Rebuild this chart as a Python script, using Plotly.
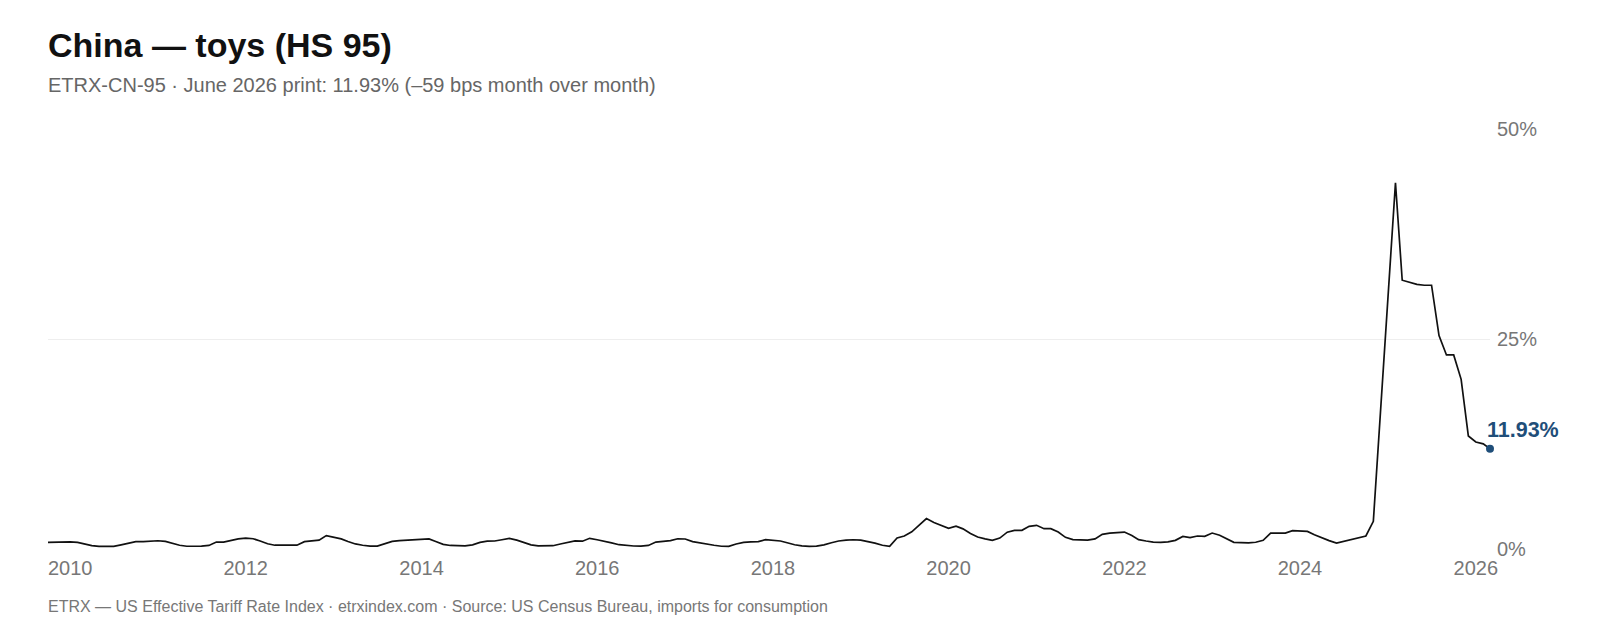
import pandas as pd
import plotly.graph_objects as go

# ETRX-CN-95, monthly effective tariff rate (%), Oct 2009 .. Mar 2026
start_month = "2009-10-01"
rate = [
    0.79, 0.82, 0.84, 0.84, 0.79, 0.60, 0.40, 0.31, 0.27, 0.31,
    0.50, 0.70, 0.87, 0.88, 0.93, 0.98, 0.90, 0.70, 0.45, 0.33,
    0.30, 0.35, 0.42, 0.83, 0.83, 1.05, 1.20, 1.30, 1.22, 0.95,
    0.63, 0.45, 0.43, 0.43, 0.45, 0.87, 0.95, 1.05, 1.59, 1.40,
    1.20, 0.90, 0.60, 0.45, 0.35, 0.35, 0.60, 0.90, 1.00, 1.05,
    1.10, 1.18, 1.20, 0.90, 0.55, 0.42, 0.36, 0.37, 0.50, 0.78,
    0.93, 0.95, 1.10, 1.27, 1.05, 0.80, 0.50, 0.38, 0.37, 0.39,
    0.60, 0.79, 0.97, 0.93, 1.27, 1.10, 0.93, 0.72, 0.51, 0.42,
    0.36, 0.35, 0.42, 0.83, 0.92, 1.00, 1.22, 1.19, 0.88, 0.72,
    0.58, 0.45, 0.33, 0.31, 0.60, 0.79, 0.85, 0.87, 1.11, 1.05,
    0.95, 0.75, 0.51, 0.38, 0.31, 0.35, 0.50, 0.75, 0.95, 1.05,
    1.10, 1.05, 0.91, 0.70, 0.45, 0.31, 1.31, 1.55, 2.05, 2.80,
    3.62, 3.15, 2.79, 2.47, 2.71, 2.40, 1.85, 1.42, 1.20, 1.03,
    1.30, 2.00, 2.22, 2.22, 2.70, 2.82, 2.42, 2.42, 2.02, 1.39,
    1.11, 1.08, 1.05, 1.20, 1.75, 1.90, 1.95, 2.02, 1.60, 1.11,
    0.95, 0.82, 0.78, 0.85, 1.03, 1.50, 1.35, 1.55, 1.51, 1.90,
    1.63, 1.20, 0.79, 0.75, 0.72, 0.80, 1.03, 1.90, 1.90, 1.90,
    2.18, 2.15, 2.10, 1.70, 1.31, 1.00, 0.71, 0.90, 1.11, 1.30,
    1.55, 3.30, 16.70, 30.20, 43.60, 32.00, 31.70, 31.50, 31.40, 31.40,
    25.40, 23.10, 23.10, 20.20, 13.45, 12.74, 12.52, 11.93,
]
year_ticks = [2010, 2012, 2014, 2016, 2018, 2020, 2022, 2024, 2026]
pct_ticks = [0, 25, 50]

title = "China — toys (HS 95)"
subtitle = "ETRX-CN-95 · June 2026 print: 11.93% (–59 bps month over month)"
footer = ("ETRX — US Effective Tariff Rate Index · etrxindex.com · "
          "Source: US Census Bureau, imports for consumption")
last_label = "11.93%"

dates = pd.date_range(start_month, periods=len(rate), freq="MS")
font = "Liberation Sans, Arial, Helvetica, sans-serif"
accent = "#1f4e79"

fig = go.Figure()
fig.add_trace(go.Scatter(x=dates, y=rate, mode="lines",
                         line=dict(color="#111111", width=1.7),
                         hoverinfo="skip", showlegend=False))
fig.add_trace(go.Scatter(x=[dates[-1]], y=[rate[-1]], mode="markers",
                         marker=dict(color=accent, size=8),
                         hoverinfo="skip", showlegend=False, cliponaxis=False))

fig.add_annotation(x=dates[-1], y=rate[-1], text="<b>%s</b>" % last_label,
                   showarrow=False, xanchor="left", yanchor="bottom",
                   xshift=-5, yshift=5, font=dict(size=21.5, color=accent))

# titles and footer, placed relative to the plot area
fig.add_annotation(x=0, y=1.199, xref="paper", yref="paper", text="<b>%s</b>" % title,
                   showarrow=False, xanchor="left", yanchor="middle", xshift=-2,
                   font=dict(size=34, color="#111111"))
fig.add_annotation(x=0, y=1.105, xref="paper", yref="paper", text=subtitle,
                   showarrow=False, xanchor="left", yanchor="middle", xshift=-2,
                   font=dict(size=20, color="#666666"))
fig.add_annotation(x=0, y=-0.137, xref="paper", yref="paper", text=footer,
                   showarrow=False, xanchor="left", yanchor="middle", xshift=-2,
                   font=dict(size=16, color="#777777"))

fig.update_layout(
    width=1600, height=640,
    margin=dict(l=40, r=118, t=121, b=99),
    paper_bgcolor="white", plot_bgcolor="white",
    font=dict(family=font, color="#777777"),
    xaxis=dict(
        type="date",
        range=[dates[0], dates[-1]],
        tickvals=[pd.Timestamp(year=y, month=1, day=1) for y in year_ticks],
        ticktext=[str(y) for y in year_ticks],
        showgrid=False, zeroline=False, showline=False, ticks="",
        ticklabelstandoff=5,
        tickfont=dict(size=20, color="#777777"),
    ),
    yaxis=dict(
        range=[0, 50], side="right",
        tickvals=pct_ticks, ticktext=["%d%%" % v for v in pct_ticks],
        showgrid=True, gridcolor="#eeeeee", gridwidth=1,
        zeroline=False, showline=False, ticks="",
        ticklabelstandoff=6,
        tickfont=dict(size=20, color="#777777"),
    ),
)

fig.write_html("out.html")
